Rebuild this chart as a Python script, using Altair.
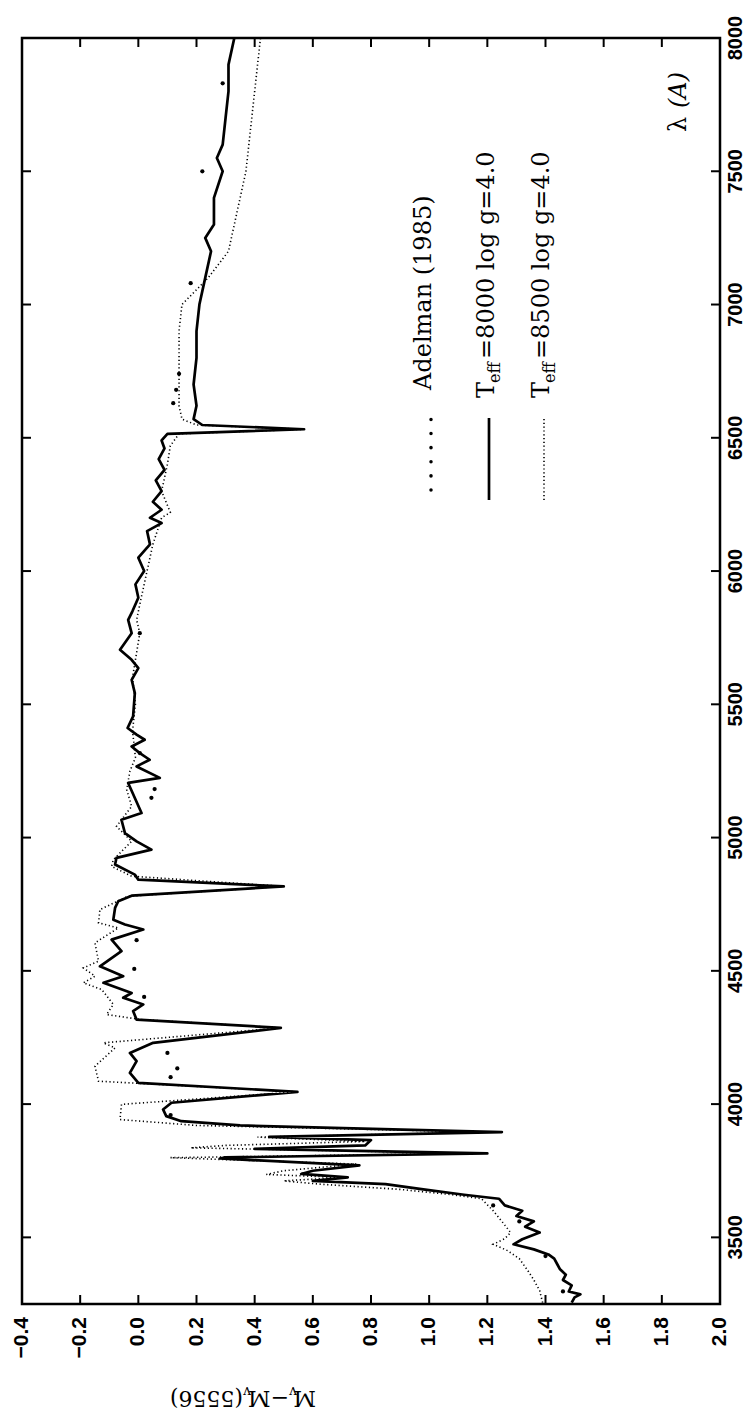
import altair as alt
import pandas as pd

# Teff=8000 log g=4.0 (solid)
wl_8000 = [3255, 3275, 3286, 3297, 3320, 3340, 3360, 3380, 3400, 3420, 3436, 3455, 3474, 3493, 3518,
           3540, 3560, 3580, 3600, 3620, 3645, 3660, 3680, 3700, 3712, 3725, 3738, 3750, 3770, 3796,
           3800, 3815, 3832, 3845, 3865, 3877, 3895, 3920, 3936, 3955,
           3980, 4005, 4046, 4080, 4117, 4161, 4192, 4230, 4286, 4317, 4349, 4374, 4399, 4417, 4455,
           4480, 4517, 4574, 4617, 4655, 4674, 4692, 4736, 4761, 4782, 4817, 4842, 4861, 4899, 4924,
           4955, 4986, 5017, 5067, 5092, 5205, 5224, 5267, 5292, 5317, 5342, 5367, 5386, 5411, 5455,
           5542, 5592, 5636, 5667, 5705, 5767, 5817, 5850, 5900, 5950, 6000, 6050, 6100, 6150, 6180,
           6200, 6230, 6260, 6300, 6340, 6380, 6420, 6460, 6490, 6515, 6532, 6548, 6570, 6620, 6700,
           6800, 6900, 7000, 7100, 7200, 7250, 7300, 7400, 7500, 7550, 7600, 7700, 7800, 7900, 8000]
m_8000 = [1.49, 1.50, 1.52, 1.48, 1.49, 1.46, 1.47, 1.45, 1.44, 1.43, 1.41, 1.36, 1.29, 1.32, 1.38,
          1.33, 1.36, 1.30, 1.32, 1.26, 1.24, 1.12, 0.98, 0.85, 0.60, 0.72, 0.56, 0.60, 0.76, 0.28,
          0.30, 1.20, 0.40, 0.78, 0.80, 0.45, 1.25, 0.35, 0.148, 0.096,
          0.085, 0.114, 0.547, 0.0, -0.029, -0.006, -0.029, 0.051, 0.49, -0.006, -0.018, 0.017, -0.052, -0.023, -0.12,
          -0.052, -0.132, -0.058, -0.092, 0.017, -0.046, -0.086, -0.08, -0.069, -0.023, 0.50, 0.0, -0.012, -0.080, -0.075,
          0.045, -0.006, -0.046, -0.058, 0.011, -0.035, 0.074, -0.006, 0.039, 0.005, -0.023, 0.022, -0.006, -0.037, -0.018,
          -0.012, -0.023, 0.0, -0.023, -0.063, -0.023, -0.035, -0.02, 0.0, -0.01, 0.02, 0.0, 0.04, 0.03, 0.08,
          0.04, 0.08, 0.05, 0.08, 0.06, 0.09, 0.07, 0.09, 0.08, 0.10, 0.57, 0.22, 0.19, 0.20, 0.19,
          0.20, 0.20, 0.21, 0.23, 0.25, 0.23, 0.26, 0.26, 0.29, 0.27, 0.29, 0.30, 0.31, 0.31, 0.33]

# Teff=8500 log g=4.0 (dotted)
wl_8500 = [3255, 3300, 3340, 3374, 3420, 3450, 3474, 3495, 3518, 3560, 3600, 3645, 3660, 3680, 3700,
           3712, 3725, 3736, 3750, 3775, 3799, 3815, 3836, 3845, 3860, 3876, 3895, 3920, 3942,
           3999, 4046, 4086, 4142, 4211, 4230, 4286, 4317, 4336, 4374, 4430, 4455, 4480, 4511, 4536,
           4605, 4661, 4680, 4730, 4780, 4817, 4855, 4892, 4917, 4986, 5042, 5117, 5180, 5249, 5300,
           5400, 5500, 5600, 5767, 5817, 5900, 6000, 6100, 6200, 6220, 6300, 6400, 6470, 6515, 6532,
           6548, 6570, 6620, 6700, 6800, 6900, 7000, 7100, 7200, 7300, 7400, 7500, 7600, 7700, 7800,
           7900, 8000]
m_8500 = [1.39, 1.38, 1.36, 1.34, 1.31, 1.27, 1.22, 1.26, 1.28, 1.25, 1.22, 1.18, 1.08, 0.90, 0.62,
          0.50, 0.70, 0.44, 0.50, 0.75, 0.11, 1.15, 0.18, 0.30, 0.78, 0.41, 1.20, 0.20, -0.063,
          -0.058, 0.547, -0.137, -0.149, -0.08, -0.12, 0.49, 0.011, -0.109, -0.086, -0.126, -0.189, -0.149, -0.189, -0.137,
          -0.149, -0.069, -0.137, -0.132, -0.035, 0.50, -0.023, -0.092, -0.086, -0.023, -0.075, -0.023, -0.04, -0.029, -0.01,
          -0.02, -0.01, -0.02, 0.005, -0.006, 0.01, 0.03, 0.05, 0.08, 0.11, 0.08, 0.10, 0.11, 0.14, 0.57,
          0.20, 0.15, 0.14, 0.14, 0.14, 0.14, 0.15, 0.24, 0.31, 0.33, 0.35, 0.37, 0.38, 0.39, 0.40,
          0.41, 0.42]

# Adelman (1985) observations
wl_obs = [3297, 3430, 3560, 3620, 3959, 4101, 4134, 4192, 4402, 4507, 4615, 5149, 5182, 5317, 5767,
          6630, 6680, 6740, 7080, 7500, 7830]
m_obs = [1.46, 1.40, 1.31, 1.22, 0.111, 0.111, 0.134, 0.100, 0.020, -0.014, -0.006, 0.045, 0.056, 0.005, 0.005,
         0.12, 0.13, 0.14, 0.18, 0.22, 0.29]

x_ticks = [-0.4, -0.2, 0.0, 0.2, 0.4, 0.6, 0.8, 1.0, 1.2, 1.4, 1.6, 1.8, 2.0]
y_ticks = [3500, 4000, 4500, 5000, 5500, 6000, 6500, 7000, 7500, 8000]

W, H = 698, 1266
xs = alt.Scale(domain=[-0.4, 2.0], nice=False, zero=False)
ys = alt.Scale(domain=[3250, 8000], nice=False, zero=False)

df8000 = pd.DataFrame({"wl": wl_8000, "m": m_8000})
df8500 = pd.DataFrame({"wl": wl_8500, "m": m_8500})
dfobs = pd.DataFrame({"wl": wl_obs, "m": m_obs})

dotted = alt.Chart(df8500).mark_line(color="black", strokeWidth=1.6, strokeDash=[1.2, 2.6]).encode(
    x=alt.X("m:Q", scale=xs, axis=None), y=alt.Y("wl:Q", scale=ys, axis=None), order="wl:Q")
solid = alt.Chart(df8000).mark_line(color="black", strokeWidth=2.7, strokeJoin="round").encode(
    x=alt.X("m:Q", scale=xs, axis=None), y=alt.Y("wl:Q", scale=ys, axis=None), order="wl:Q")
obs = alt.Chart(dfobs).mark_circle(color="black", size=18, opacity=1).encode(
    x=alt.X("m:Q", scale=xs, axis=None), y=alt.Y("wl:Q", scale=ys, axis=None))

dfx = pd.DataFrame({"v": x_ticks})
dfy = pd.DataFrame({"v": y_ticks})
tick_b = alt.Chart(dfx).mark_rule(color="black", strokeWidth=2).encode(
    x=alt.X("v:Q", scale=xs, axis=None), y=alt.value(H), y2=alt.value(H - 9))
tick_t = alt.Chart(dfx).mark_rule(color="black", strokeWidth=2).encode(
    x=alt.X("v:Q", scale=xs, axis=None), y=alt.value(0), y2=alt.value(9))
tick_r = alt.Chart(dfy).mark_rule(color="black", strokeWidth=2).encode(
    y=alt.Y("v:Q", scale=ys, axis=None), x=alt.value(W), x2=alt.value(W - 9))
tick_l = alt.Chart(dfy).mark_rule(color="black", strokeWidth=2).encode(
    y=alt.Y("v:Q", scale=ys, axis=None), x=alt.value(0), x2=alt.value(9))

lab_b = alt.Chart(dfx).mark_text(angle=270, align="right", baseline="middle", font="Liberation Sans",
                                 fontWeight="bold", fontSize=21, color="black").encode(
    x=alt.X("v:Q", scale=xs, axis=None), y=alt.value(H + 13), text=alt.Text("v:Q", format=".1f"))
lab_r = alt.Chart(dfy).mark_text(angle=270, align="center", baseline="top", font="Liberation Sans",
                                 fontWeight="bold", fontSize=20, color="black").encode(
    y=alt.Y("v:Q", scale=ys, axis=None), x=alt.value(W + 6), text=alt.Text("v:Q", format="d"))

one = pd.DataFrame({"a": [0]})
leg_dots = alt.Chart(one).mark_rule(color="black", strokeWidth=3.5, strokeDash=[0.1, 14], strokeCap="round").encode(
    x=alt.value(409), y=alt.value(452), y2=alt.value(380))
leg_solid = alt.Chart(one).mark_rule(color="black", strokeWidth=2.7).encode(
    x=alt.value(467), y=alt.value(462), y2=alt.value(380))
leg_dotted = alt.Chart(one).mark_rule(color="black", strokeWidth=1.6, strokeDash=[1.2, 2.6]).encode(
    x=alt.value(522), y=alt.value(462), y2=alt.value(380))

serif = "DejaVu Serif"
def label(txt, x, y, size=24, style="normal", angle=270):
    return alt.Chart(pd.DataFrame({"t": [txt]})).mark_text(
        angle=angle, align="left", baseline="middle", font=serif, fontSize=size, fontStyle=style,
        color="black").encode(x=alt.value(x), y=alt.value(y), text="t:N")

texts = [
    label("Adelman  (1985)", 402, 352),
    label("T", 465, 360), label("eff", 473, 345, size=16), label("=8000  log  g=4.0", 465, 321),
    label("T", 520, 360), label("eff", 528, 345, size=16), label("=8500  log  g=4.0", 520, 321),
    label("λ", 657, 94), label("(A)", 657, 70, style="italic"),
    # upside-down axis title  M_v - M_v(5556)
    label("M", 294, H + 94, size=22, angle=180),
    label("v", 275, H + 87, size=14, angle=180),
    label("−M", 267, H + 94, size=22, angle=180),
    label("v", 229, H + 87, size=14, angle=180),
    label("(5556)", 221, H + 94, size=22, angle=180),
]

chart = alt.layer(dotted, solid, obs, tick_b, tick_t, tick_r, tick_l, lab_b, lab_r,
                  leg_dots, leg_solid, leg_dotted, *texts).properties(
    width=W, height=H,
    padding={"left": 14, "top": 30, "right": 27, "bottom": 110},
    autosize=alt.AutoSizeParams(type="none"),
).configure_view(stroke="black", strokeWidth=2.5)

chart.save("out.html", embed_options={"renderer": "svg", "actions": False})
